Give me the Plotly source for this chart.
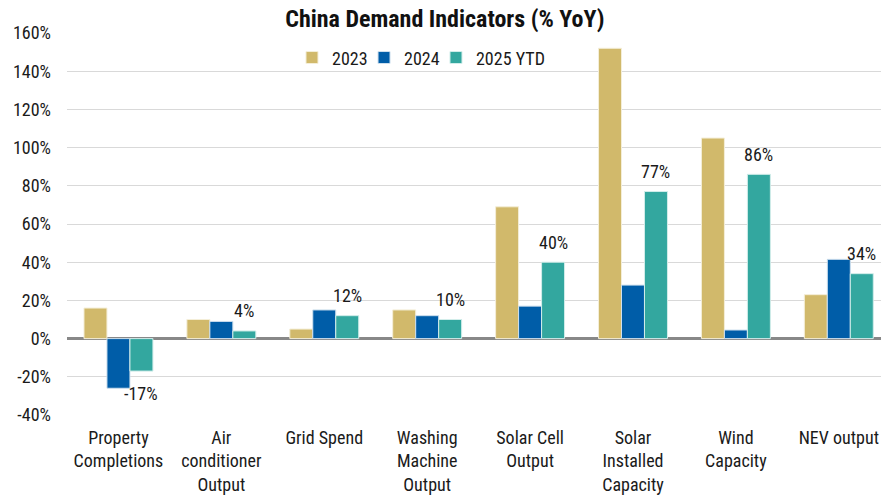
import plotly.graph_objects as go

categories = ["Property<br>Completions", "Air<br>conditioner<br>Output", "Grid Spend",
              "Washing<br>Machine<br>Output", "Solar Cell<br>Output", "Solar<br>Installed<br>Capacity",
              "Wind<br>Capacity", "NEV output"]
y2023 = [16, 10, 5, 15, 69, 152, 105, 23]
y2024 = [-26, 9, 15, 12, 17, 28, 4.5, 41.5]
y2025 = [-17, 4, 12, 10, 40, 77, 86, 34]
labels2025 = ["-17%", "4%", "12%", "10%", "40%", "77%", "86%", "34%"]
y_ticks = [-40, -20, 0, 20, 40, 60, 80, 100, 120, 140, 160]

FONT = "Roboto Condensed, Roboto, sans-serif"
x = list(range(len(categories)))
BARGAP = 0.33
n_series = 3
bar_w = (1 - BARGAP) / n_series          # width of one bar in category units
third_offset = bar_w                       # centre of 3rd bar relative to category centre

fig = go.Figure()
fig.add_bar(x=x, y=y2023, name="2023", legend="legend",
            marker=dict(color="#D1B96B", line=dict(color="#F4EED8", width=1)))
fig.add_bar(x=x, y=y2024, name="2024", legend="legend2",
            marker=dict(color="#005DA8", line=dict(color="#CFE0EE", width=1)))
fig.add_bar(x=x, y=y2025, name="2025 YTD", legend="legend3",
            marker=dict(color="#33A79F", line=dict(color="#D2EDEA", width=1)))

for xi, v, lab in zip(x, y2025, labels2025):
    fig.add_annotation(x=xi + third_offset, y=v, xref="x", yref="y", text=lab, showarrow=False,
                       yanchor="middle", xanchor="center", yshift=20 if v >= 0 else -22,
                       font=dict(size=18, color="#1a1a1a", family=FONT))

leg_common = dict(orientation="h", xanchor="left", y=0.935, yanchor="middle",
                  font=dict(size=18, family=FONT), bgcolor="rgba(0,0,0,0)", itemwidth=30)

fig.update_layout(
    width=881, height=497,
    margin=dict(l=67, r=0, t=33, b=82),
    paper_bgcolor="white", plot_bgcolor="white",
    font=dict(family=FONT, size=18, color="#1a1a1a"),
    title=dict(text="<b>China Demand Indicators (% YoY)</b>", x=0.505, xanchor="center",
               y=0.963, yanchor="middle", font=dict(size=24, color="#111111", family=FONT)),
    barmode="group", bargap=BARGAP, bargroupgap=0,
    showlegend=True,
    legend=dict(x=0.2764, **leg_common),
    legend2=dict(x=0.3649, **leg_common),
    legend3=dict(x=0.4533, **leg_common),
    xaxis=dict(tickmode="array", tickvals=x, ticktext=categories, range=[-0.5, 7.41],
               showgrid=False, showline=False, ticks="", ticklabelstandoff=10,
               tickfont=dict(size=18, family=FONT)),
    yaxis=dict(range=[-40, 160], tickvals=y_ticks, ticktext=[f"{v}%" for v in y_ticks],
               showgrid=True, gridcolor="#D9D9D9", gridwidth=1.3,
               zeroline=True, zerolinecolor="#888888", zerolinewidth=3,
               showline=False, ticks="", ticklabelstandoff=15, tickfont=dict(size=18, family=FONT)),
)

fig.write_html("out.html", post_script="document.body.style.margin='0';",
               config={"displayModeBar": False})
